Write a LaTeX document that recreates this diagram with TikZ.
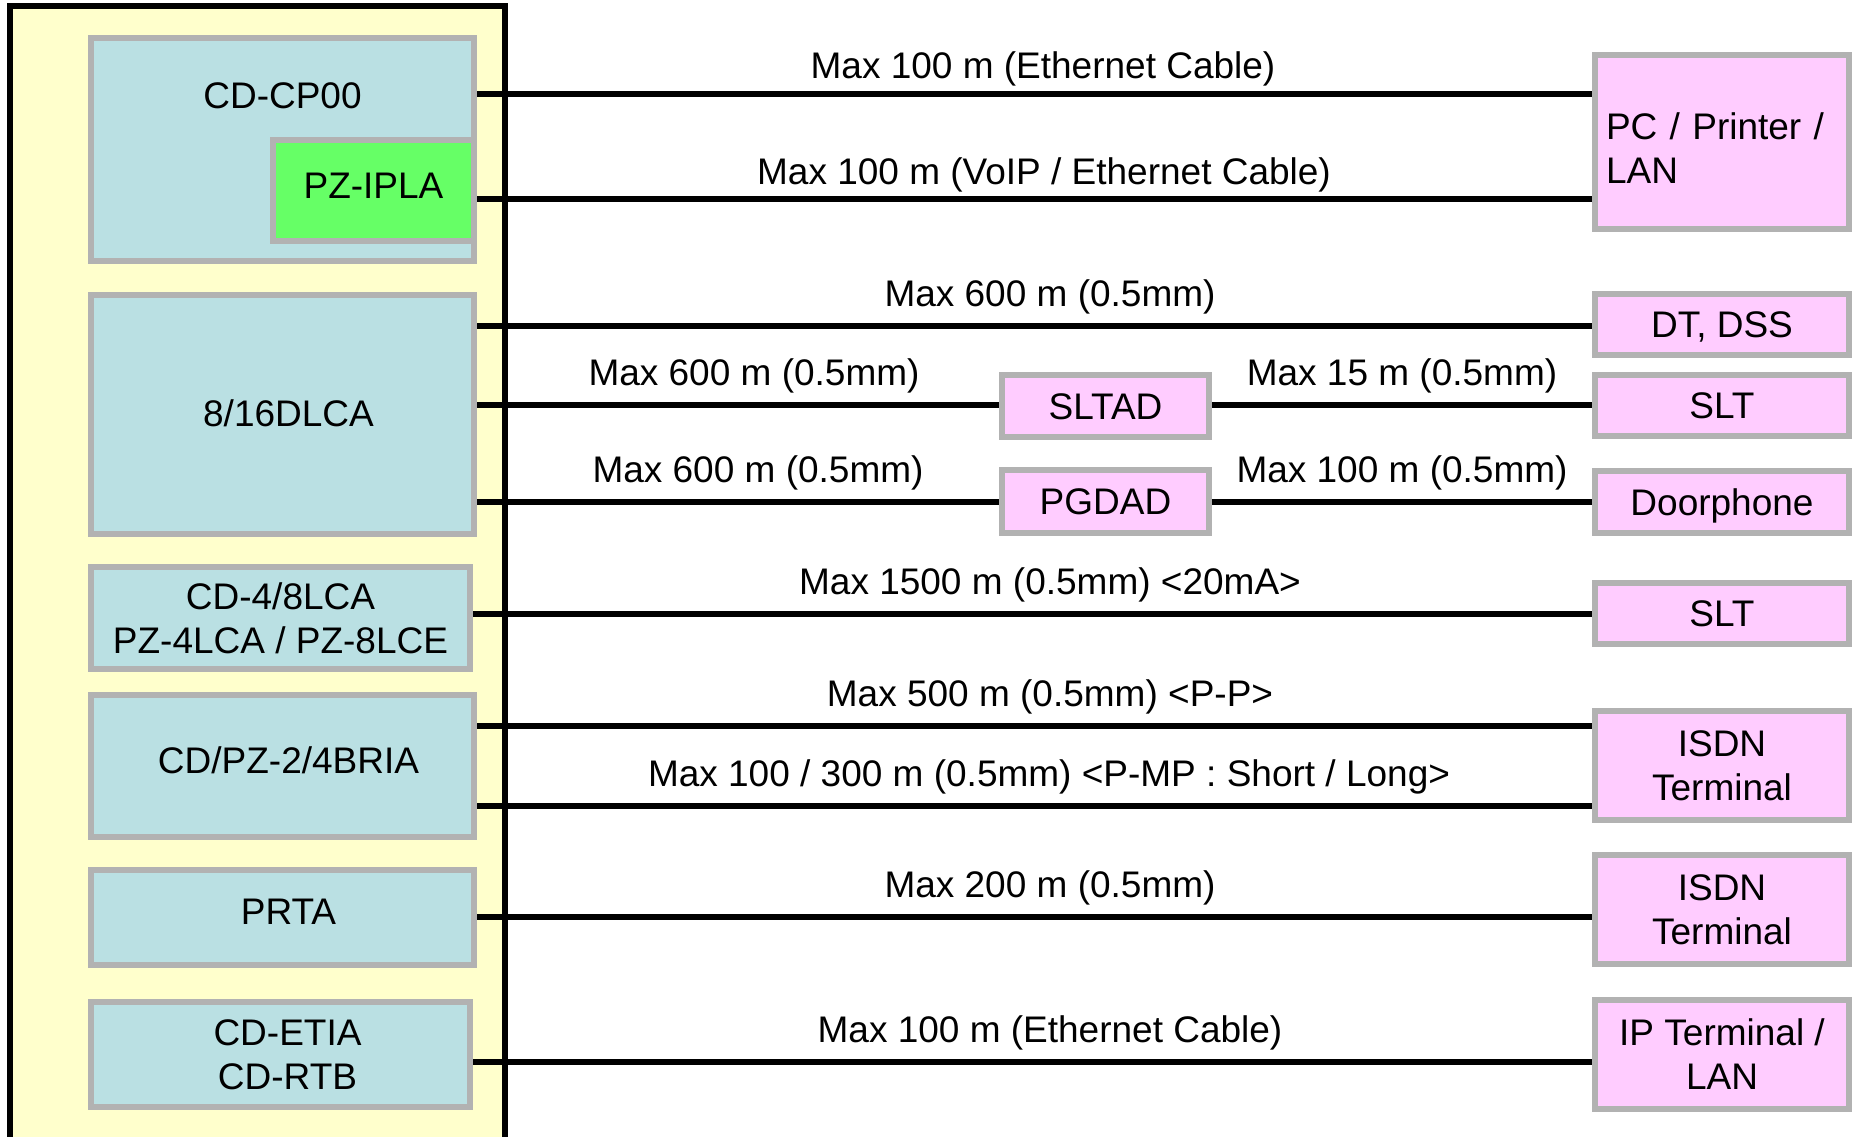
\documentclass[tikz,border=0pt]{standalone}
\usepackage{fontspec}
\setmainfont{Liberation Sans}
\definecolor{shelf}{RGB}{255,255,204}
\definecolor{cardblue}{RGB}{186,224,227}
\definecolor{bordergray}{RGB}{178,178,178}
\definecolor{iplagreen}{RGB}{102,255,102}
\definecolor{devpink}{RGB}{255,204,255}
\pgfdeclarelayer{back}
\pgfdeclarelayer{wires}
\pgfsetlayers{back,wires,main}
\begin{document}
\begin{tikzpicture}[x=1pt,y=-1pt,
  every node/.style={font=\fontsize{37}{44}\selectfont, inner sep=0pt},
  box/.style={draw=bordergray, line width=6pt, align=center},
  card/.style={box, fill=cardblue},
  dev/.style={box, fill=devpink, minimum width=254pt},
  one/.style={text height=26.5pt, text depth=0pt},
  wire/.style={line width=5.5pt, draw=black},
  cable/.style={anchor=base},
]
\useasboundingbox (0,0) rectangle (1856,1136);
\begin{pgfonlayer}{back}
  \draw[line width=5.5pt, fill=shelf] (9.8,5.8) rectangle (505,1140);
\end{pgfonlayer}

% left cards
\node[card, minimum width=383pt, minimum height=223pt] (cp00) at (282.5,149.5) {};
\node[anchor=base] (cp00t) at (282.5,108.3) {CD-CP00};
\node[box, fill=iplagreen, one, text depth=10pt, minimum width=201pt, minimum height=101pt] (ipla) at (373.5,190.5) {PZ-IPLA};
\node[card, one, text depth=2pt, minimum width=383pt, minimum height=239pt] (dlca) at (282.5,414.5) {\hspace*{12pt}8/16DLCA};
\node[card, minimum width=379pt, minimum height=102pt] (lca) at (280.5,618) {CD-4/8LCA\\PZ-4LCA / PZ-8LCE};
\node[card, one, text depth=12pt, minimum width=383pt, minimum height=142pt] (bria) at (282.5,766) {\hspace*{12pt}CD/PZ-2/4BRIA};
\node[card, one, text depth=12pt, minimum width=383pt, minimum height=95pt] (prta) at (282.5,917.5) {\hspace*{12pt}PRTA};
\node[card, minimum width=379pt, minimum height=105pt] (etia) at (280.5,1054.5) {\hspace*{14pt}CD-ETIA\\\hspace*{14pt}CD-RTB};

% right devices
\node[dev, minimum height=174pt, text width=232pt, align=left] (pc) at (1722,142) {\rule{0pt}{38.5pt}PC / Printer /\\LAN};
\node[dev, one, minimum height=61pt] (dt) at (1722,324.5) {DT, DSS};
\node[dev, one, minimum height=61pt] (slta) at (1722,405.5) {SLT};
\node[dev, one, minimum height=62pt] (door) at (1722,502) {Doorphone};
\node[dev, one, minimum height=61pt] (sltb) at (1722,613.5) {SLT};
\node[dev, minimum height=109pt] (isdna) at (1722,765.5) {ISDN\\Terminal};
\node[dev, minimum height=109pt] (isdnb) at (1722,909.5) {ISDN\\Terminal};
\node[dev, minimum height=109pt] (ip) at (1722,1054.5) {IP Terminal /\\LAN};

% adapters
\node[dev, one, minimum width=207pt, minimum height=62pt] (sltad) at (1105.5,406) {SLTAD};
\node[dev, one, minimum width=207pt, minimum height=63pt] (pgdad) at (1105.5,501.5) {PGDAD};

% wires
\begin{pgfonlayer}{wires}
  \draw[wire] (cp00.east |- 0,94) -- (pc.west |- 0,94);
  \draw[wire] (ipla.east |- 0,199) -- (pc.west |- 0,199);
  \draw[wire] (dlca.east |- 0,326) -- (dt.west |- 0,326);
  \draw[wire] (dlca.east |- 0,405) -- (sltad.west |- 0,405);
  \draw[wire] (sltad.east |- 0,405) -- (slta.west |- 0,405);
  \draw[wire] (dlca.east |- 0,502) -- (pgdad.west |- 0,502);
  \draw[wire] (pgdad.east |- 0,502) -- (door.west |- 0,502);
  \draw[wire] (lca.east |- 0,614) -- (sltb.west |- 0,614);
  \draw[wire] (bria.east |- 0,726) -- (isdna.west |- 0,726);
  \draw[wire] (bria.east |- 0,806) -- (isdna.west |- 0,806);
  \draw[wire] (prta.east |- 0,917) -- (isdnb.west |- 0,917);
  \draw[wire] (etia.east |- 0,1062) -- (ip.west |- 0,1062);
\end{pgfonlayer}

% cable labels
\node[cable] (t1) at (1043,78) {Max 100 m (Ethernet Cable)};
\node[cable] (t2) at (1044,184) {Max 100 m (VoIP / Ethernet Cable)};
\node[cable] (t3) at (1050,306) {Max 600 m (0.5mm)};
\node[cable] (t4) at (754,385) {Max 600 m (0.5mm)};
\node[cable] (t5) at (1402,385) {Max 15 m (0.5mm)};
\node[cable] (t6) at (758,482) {Max 600 m (0.5mm)};
\node[cable] (t7) at (1402,482) {Max 100 m (0.5mm)};
\node[cable] (t8) at (1050,594) {Max 1500 m (0.5mm) <20mA>};
\node[cable] (t9) at (1050,706) {Max 500 m (0.5mm) <P-P>};
\node[cable] (t10) at (1049,786) {Max 100 / 300 m (0.5mm) <P-MP : Short / Long>};
\node[cable] (t11) at (1050,897) {Max 200 m (0.5mm)};
\node[cable] (t12) at (1050,1042) {Max 100 m (Ethernet Cable)};
\end{tikzpicture}
\end{document}
